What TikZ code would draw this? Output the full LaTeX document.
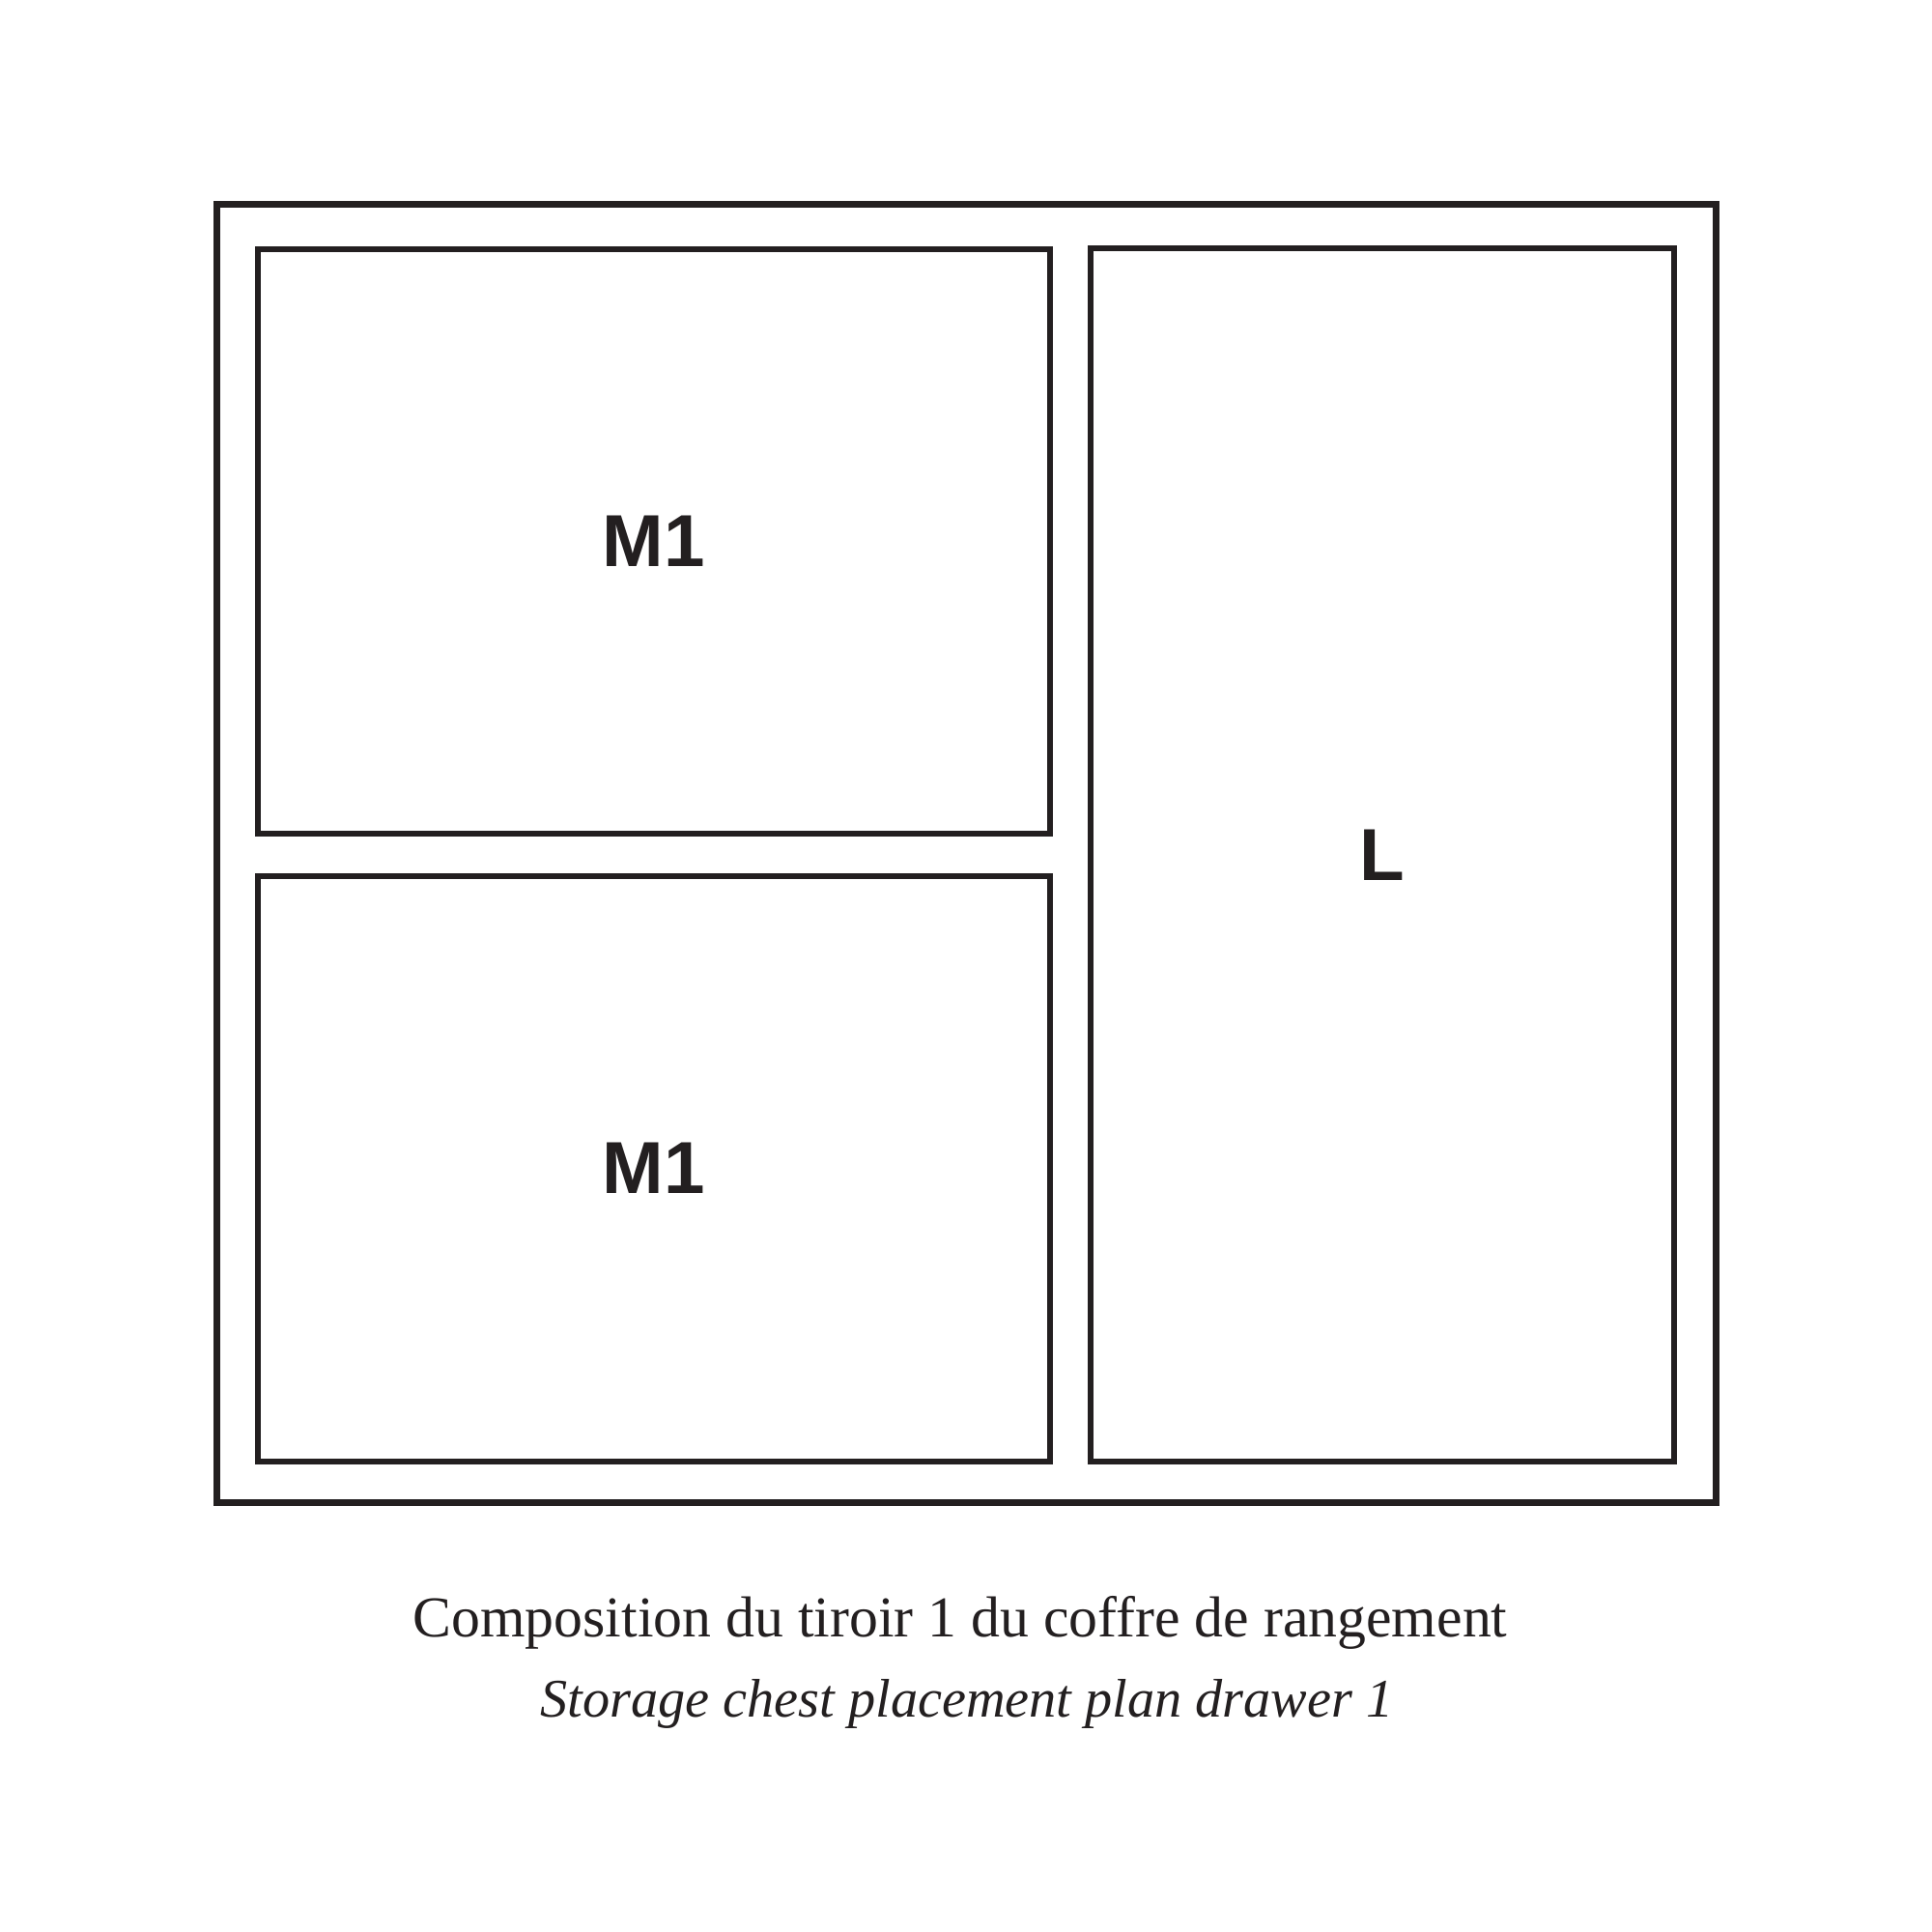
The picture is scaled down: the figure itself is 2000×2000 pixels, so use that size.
\documentclass[tikz,border=0pt]{standalone}
\usepackage{fontspec}
\setmainfont{Liberation Serif}
\newfontfamily\labelfont{Liberation Sans}
\definecolor{ink}{HTML}{231F20}
\begin{document}
\begin{tikzpicture}[x=0.01cm,y=-0.01cm,
  frame/.style={draw=ink,line width=1.99pt,inner sep=0pt,outer sep=0pt},
  tray/.style={draw=ink,line width=1.7pt,inner sep=0pt,outer sep=0pt,text=ink,
    font=\labelfont\bfseries\fontsize{21.7}{26}\selectfont},
  caption/.style={anchor=base,text=ink,inner sep=0pt}]
\useasboundingbox[fill=white] (0,0) rectangle (2000,2000);
\node[frame,minimum width=15.52cm,minimum height=13.435cm] (outer) at (1000.5,883.75) {};
\node[tray,minimum width=8.193cm,minimum height=6.056cm] (m1top) at (676.65,560.5) {M1};
\node[tray,minimum width=8.193cm,minimum height=6.058cm] (m1bot) at (676.65,1209.6) {M1};
\node[tray,minimum width=6.034cm,minimum height=12.548cm] (large) at (1431,885.1) {L};
\node[caption,font=\fontsize{17}{21}\selectfont] (cap1) at (994,1694) {Composition du tiroir 1 du coffre de rangement};
\node[caption,font=\itshape\fontsize{16}{20}\selectfont] (cap2) at (1001,1777) {Storage chest placement plan drawer 1};
\end{tikzpicture}
\end{document}
